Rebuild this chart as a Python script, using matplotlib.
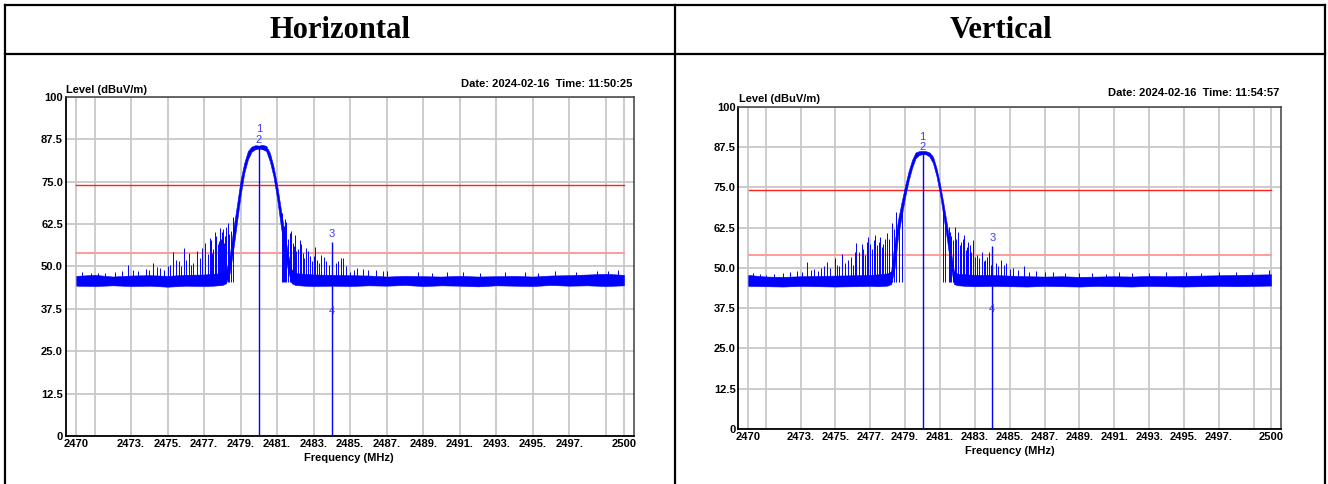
import matplotlib
matplotlib.use('Agg')
import matplotlib.pyplot as plt
from matplotlib.lines import Line2D

W, H = 1328, 484

# ---- trace envelope (MHz / dBuV/m), shared frequency points
freq_mhz = [2470.0, 2471.0, 2472.0, 2473.0, 2474.0, 2475.0, 2476.0, 2477.0, 2477.5,
            2478.0, 2478.2, 2478.4, 2478.6, 2478.8, 2479.0, 2479.2, 2479.4, 2479.6,
            2479.8, 2480.0, 2480.2, 2480.4, 2480.6, 2480.8, 2481.0, 2481.2, 2481.4,
            2481.6, 2481.8, 2482.0, 2482.5, 2483.0, 2484.0, 2485.0, 2486.0, 2487.0,
            2488.0, 2489.0, 2490.0, 2491.0, 2492.0, 2493.0, 2494.0, 2495.0, 2496.0,
            2497.0, 2498.0, 2499.0, 2500.0]

h_low = [44.3, 44.2, 44.4, 44.2, 44.3, 44.0, 44.3, 44.2, 44.3,
         44.5, 45.0, 48.0, 55.0, 63.0, 71.0, 77.5, 81.5, 83.8,
         84.5, 84.7, 84.5, 84.0, 81.0, 76.5, 70.0, 62.0, 55.0,
         48.5, 45.0, 44.5, 44.3, 44.2, 44.3, 44.2, 44.4, 44.3,
         44.5, 44.2, 44.4, 44.3, 44.1, 44.4, 44.3, 44.2, 44.5,
         44.3, 44.4, 44.2, 44.4]
h_high = [47.2, 47.5, 47.0, 47.3, 47.4, 47.2, 47.5, 47.6, 47.8,
          48.0, 48.5, 53.0, 61.0, 68.0, 75.5, 80.5, 84.0, 85.3,
          85.7, 85.6, 85.8, 85.5, 83.5, 79.5, 74.0, 67.0, 60.0,
          53.5, 49.0, 48.0, 47.8, 47.6, 47.5, 47.4, 47.3, 47.0,
          47.2, 47.1, 47.0, 47.2, 47.0, 47.1, 47.2, 47.0, 47.3,
          47.4, 47.6, 47.8, 47.5]

v_low = [44.4, 44.3, 44.2, 44.4, 44.3, 44.2, 44.3, 44.4, 44.3,
         44.5, 45.0, 50.0, 60.0, 66.0, 72.0, 77.0, 81.0, 84.0,
         85.0, 85.3, 85.2, 84.5, 82.5, 78.5, 73.0, 66.0, 59.0,
         51.0, 45.0, 44.6, 44.4, 44.3, 44.4, 44.3, 44.2, 44.4,
         44.3, 44.2, 44.4, 44.3, 44.2, 44.4, 44.3, 44.2, 44.3,
         44.4, 44.3, 44.4, 44.5]
v_high = [47.8, 47.3, 47.2, 47.4, 47.5, 47.6, 47.7, 47.8, 48.0,
          48.3, 49.0, 58.0, 65.0, 70.5, 75.5, 80.0, 83.5, 85.8,
          86.2, 86.3, 86.2, 85.8, 84.5, 81.0, 76.0, 70.0, 63.5,
          56.0, 49.0, 48.2, 48.0, 47.8, 47.8, 47.6, 47.4, 47.3,
          47.4, 47.2, 47.3, 47.4, 47.3, 47.5, 47.4, 47.5, 47.6,
          47.7, 47.8, 47.9, 48.0]

# ---- spurious peaks above the noise floor
h_spike_f = [2470.3, 2470.8, 2471.2, 2471.6, 2472.1, 2472.5, 2472.85, 2473.1, 2473.4,
             2473.8, 2474.0, 2474.2, 2474.4, 2474.6, 2474.8, 2475.0, 2475.15, 2475.3,
             2475.45, 2475.6, 2475.75, 2475.9, 2476.0, 2476.2, 2476.3, 2476.4, 2476.6,
             2476.8, 2476.9, 2477.05, 2477.2, 2477.3, 2477.4, 2477.45, 2477.5, 2477.6,
             2477.68, 2477.75, 2477.82, 2477.87, 2477.95, 2478.0, 2478.05, 2478.1,
             2478.15, 2478.2, 2478.3, 2478.38, 2478.45, 2478.6,
             2481.25, 2481.3, 2481.4, 2481.45, 2481.5, 2481.6, 2481.7, 2481.75,
             2481.85, 2481.9, 2482.0, 2482.05, 2482.15, 2482.25, 2482.3, 2482.4,
             2482.5, 2482.6, 2482.7, 2482.8, 2482.9, 2483.0, 2483.07, 2483.2, 2483.3,
             2483.4, 2483.55, 2483.7, 2483.85, 2484.2, 2484.35, 2484.5, 2484.6,
             2484.8, 2485.0, 2485.2, 2485.4, 2485.7, 2486.0, 2486.4, 2486.8, 2487.0,
             2488.7, 2489.5, 2490.3, 2491.2, 2492.1, 2493.5, 2494.6, 2495.3, 2496.2,
             2497.4, 2498.5, 2499.1, 2499.7]
h_spike_lv = [48.2, 48.0, 48.0, 47.9, 48.3, 48.5, 50.4, 49.0, 48.6,
              49.2, 48.8, 51.0, 49.8, 49.5, 49.0, 50.2, 50.5, 54.3,
              52.0, 51.5, 50.0, 55.3, 52.0, 53.8, 50.5, 51.0, 54.6,
              52.5, 55.5, 56.8, 53.5, 58.5, 57.8, 54.0, 55.0, 60.2,
              59.0, 56.5, 57.5, 61.2, 58.0, 60.0, 61.0, 57.0,
              59.0, 61.5, 62.9, 59.5, 60.5, 64.6,
              65.6, 61.0, 62.0, 64.0, 63.2, 58.0, 59.7, 60.5,
              57.0, 56.0, 59.2, 54.5, 55.0, 57.8, 56.5, 54.0,
              52.5, 55.3, 54.5, 53.0, 51.5, 53.0, 55.8, 52.0, 51.0,
              53.3, 52.8, 51.5, 50.5, 51.0, 51.5, 52.4, 52.4,
              50.0, 48.4, 49.0, 49.5, 49.2, 49.0, 48.8, 48.5, 48.5,
              48.3, 48.1, 48.3, 48.2, 48.0, 48.4, 48.2, 48.0, 48.5,
              48.4, 48.6, 48.6, 48.8]

v_spike_f = [2470.3, 2470.7, 2471.0, 2471.5, 2472.0, 2472.4, 2472.8, 2473.1, 2473.35,
             2473.6, 2473.8, 2474.0, 2474.2, 2474.35, 2474.5, 2474.7, 2474.98, 2475.1,
             2475.2, 2475.4, 2475.55, 2475.74, 2475.9, 2476.0, 2476.1, 2476.2, 2476.35,
             2476.5, 2476.6, 2476.7, 2476.8, 2476.9, 2477.0, 2477.1, 2477.2, 2477.27,
             2477.4, 2477.5, 2477.56, 2477.65, 2477.75, 2477.85, 2477.95, 2478.05,
             2478.1, 2478.23, 2478.35, 2478.5, 2478.65, 2478.8,
             2481.2, 2481.3, 2481.5, 2481.55, 2481.65, 2481.75, 2481.87, 2481.95,
             2482.06, 2482.15, 2482.2, 2482.3, 2482.4, 2482.48, 2482.55, 2482.62,
             2482.7, 2482.8, 2482.9, 2483.0, 2483.1, 2483.25, 2483.4, 2483.5, 2483.6,
             2483.7, 2483.8, 2483.95, 2484.2, 2484.35, 2484.5, 2484.65, 2484.8,
             2485.0, 2485.2, 2485.5, 2485.8, 2486.1, 2486.5, 2487.0, 2487.5, 2488.2,
             2489.0, 2489.7, 2490.5, 2491.3, 2492.0, 2493.0, 2494.0, 2495.1, 2496.0,
             2497.0, 2498.0, 2498.9, 2499.9]
v_spike_lv = [48.5, 48.0, 47.9, 48.2, 48.3, 48.8, 49.0, 48.6, 51.9,
              49.2, 49.5, 48.9, 49.8, 50.5, 51.9, 50.0, 53.0, 51.0,
              50.5, 54.3, 51.5, 52.5, 53.5, 51.0, 55.0, 57.8, 55.0,
              57.5, 56.0, 54.0, 58.0, 59.7, 57.5, 56.0, 58.5, 60.2,
              57.0, 58.0, 59.6, 56.5, 57.5, 59.0, 60.9, 58.5,
              59.0, 63.8, 62.0, 67.4, 66.0, 70.0,
              70.0, 66.0, 62.8, 61.0, 60.0, 58.5, 62.8, 59.0,
              61.2, 57.0, 58.0, 59.0, 60.2, 55.5, 56.5, 58.0,
              57.1, 55.0, 58.6, 53.5, 54.0, 53.0, 55.0, 52.0, 52.5,
              53.5, 54.8, 51.0, 51.5, 50.5, 52.4, 50.8, 51.6,
              49.5, 50.0, 49.3, 50.6, 48.8, 49.0, 48.7, 48.6, 48.4,
              48.5, 48.3, 48.2, 48.6, 48.4, 48.3, 48.6, 48.7, 48.5,
              48.6, 48.8, 48.7, 49.3]

# ---- markers: frequency, trace level, label levels for 1/2 and 3/4
h_mk_f = [2480.0, 2484.0]
h_mk_lv = [85.5, 57.1]
h_mk_txt = [90.4, 87.2, 59.4, 36.8]
v_mk_f = [2480.0, 2484.0]
v_mk_lv = [86.0, 56.9]
v_mk_txt = [90.6, 87.4, 59.2, 37.1]

limit_peak = 74.0
limit_avg = 54.0

x_ticks = [2470, 2471, 2473, 2475, 2477, 2479, 2481, 2483, 2485, 2487, 2489,
           2491, 2493, 2495, 2497, 2499, 2500]
x_labels = ['2470', '', '2473.', '2475.', '2477.', '2479.', '2481.', '2483.',
            '2485.', '2487.', '2489.', '2491.', '2493.', '2495.', '2497.', '', '2500']
y_ticks = [0, 12.5, 25, 37.5, 50, 62.5, 75, 87.5, 100]
y_labels = ['0', '12.5', '25.0', '37.5', '50.0', '62.5', '75.0', '87.5', '100']

plt.rcParams['font.family'] = ['Liberation Sans', 'DejaVu Sans']


def fx(x):
    return x / W


def fy(y):
    return 1 - y / H


def draw_scan(fig, box, xlim, low, high, sp_f, sp_lv, mk_f, mk_lv, mk_txt,
              level_xy, date_xy, date_txt, freq_xy):
    l, t, r, b = box
    ax = fig.add_axes([fx(l), fy(b), fx(r - l), (b - t) / H])
    ax.set_xlim(*xlim)
    ax.set_ylim(0, 100)
    ax.set_xticks(x_ticks)
    ax.set_xticklabels(x_labels, fontsize=8, fontweight='bold')
    ax.set_yticks(y_ticks)
    ax.set_yticklabels(y_labels, fontsize=8, fontweight='bold')
    ax.tick_params(length=0, pad=2)
    ax.grid(True, color='#c8c8c8', lw=1.3)
    ax.set_axisbelow(True)
    for s in ['left', 'bottom']:
        ax.spines[s].set_color('black')
        ax.spines[s].set_linewidth(1.3)
    for s in ['top', 'right']:
        ax.spines[s].set_color('#404040')
        ax.spines[s].set_linewidth(1.1)

    # limit lines
    ax.axhline(limit_peak, xmin=0.019, xmax=0.982, color='#ff2020', lw=1.0, zorder=2)
    ax.axhline(limit_avg, xmin=0.019, xmax=0.982, color='#ff9a9a', lw=1.4, zorder=2)

    # trace
    ax.fill_between(freq_mhz, low, high, color='#0000ff', lw=0.4, zorder=3)
    ax.vlines(sp_f, 45.5, sp_lv, color='#0000ff', lw=0.7, zorder=3)

    # markers
    ax.vlines(mk_f, 0, mk_lv, color='#0000ff', lw=1.0, zorder=4)
    for lab, f, y in zip(['1', '2', '3', '4'],
                         [mk_f[0], mk_f[0], mk_f[1], mk_f[1]], mk_txt):
        ax.text(f, y, lab, color='#3b3bff', fontsize=8, ha='center',
                va='center', zorder=5)

    fig.text(fx(level_xy[0]), fy(level_xy[1]), 'Level (dBuV/m)', fontsize=8,
             fontweight='bold', ha='left', va='center')
    fig.text(fx(date_xy[0]), fy(date_xy[1]), date_txt, fontsize=8,
             fontweight='bold', ha='right', va='center')
    fig.text(fx(freq_xy[0]), fy(freq_xy[1]), 'Frequency (MHz)', fontsize=8,
             fontweight='bold', ha='center', va='center')
    return ax


fig = plt.figure(figsize=(W / 100, H / 100), dpi=100)
fig.patch.set_facecolor('white')

draw_scan(fig, (65.7, 96.7, 634, 436), (2469.42, 2500.55), h_low, h_high,
          h_spike_f, h_spike_lv, h_mk_f, h_mk_lv, h_mk_txt,
          (66, 90), (632, 84), 'Date: 2024-02-16  Time: 11:50:25', (349, 458))
draw_scan(fig, (738.3, 106.7, 1281, 429), (2469.43, 2500.57), v_low, v_high,
          v_spike_f, v_spike_lv, v_mk_f, v_mk_lv, v_mk_txt,
          (739, 99), (1279, 93), 'Date: 2024-02-16  Time: 11:54:57', (1010, 451))

# table frame
for x in [5, 675, 1325]:
    fig.add_artist(Line2D([fx(x), fx(x)], [fy(5), 0], color='black', lw=1.6))
for y in [5, 54]:
    fig.add_artist(Line2D([fx(5), fx(1325)], [fy(y), fy(y)], color='black', lw=1.6))

fig.text(fx(340), fy(31), 'Horizontal', family=['Liberation Serif', 'DejaVu Serif'],
         fontsize=22, fontweight='bold', ha='center', va='center')
fig.text(fx(1001), fy(31), 'Vertical', family=['Liberation Serif', 'DejaVu Serif'],
         fontsize=22, fontweight='bold', ha='center', va='center')

fig.savefig('out.png', dpi=100, facecolor='white')
